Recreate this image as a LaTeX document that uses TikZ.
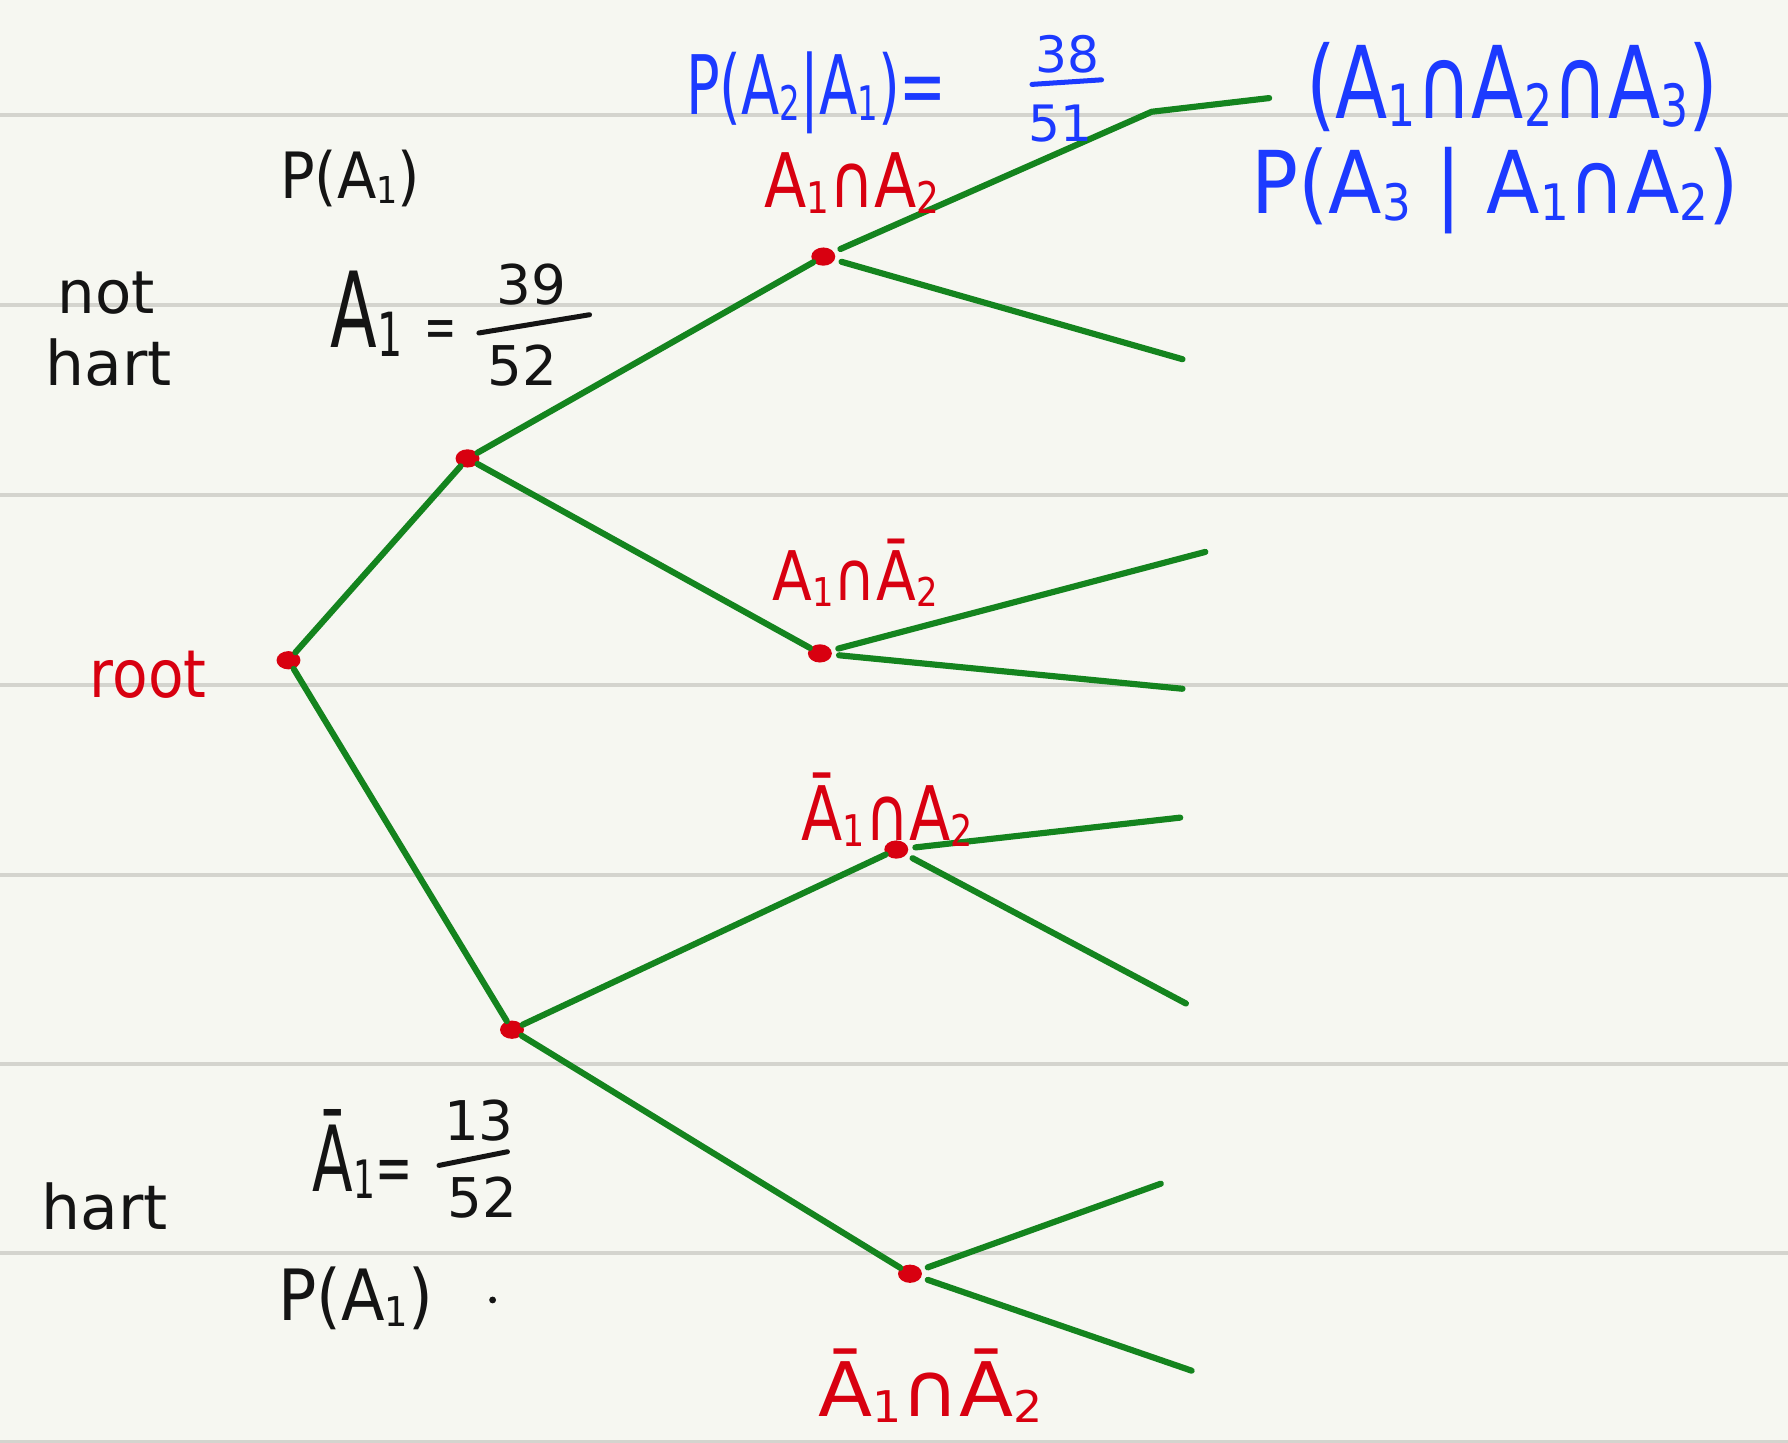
\documentclass[tikz,border=0pt]{standalone}
\usepackage{fontspec}
\setmainfont{DejaVu Sans}
\usepackage{graphicx}
\usetikzlibrary{shapes.geometric}
\definecolor{paper}{RGB}{246,247,241}
\definecolor{ruled}{RGB}{212,212,206}
\definecolor{tgreen}{RGB}{20,132,30}
\definecolor{tred}{RGB}{216,0,16}
\definecolor{tblue}{RGB}{28,58,255}
\definecolor{tink}{RGB}{20,20,20}
\newcommand\fs[1]{\fontsize{#1}{#1}\selectfont}
\newcommand\sx[2]{\scalebox{#1}[1]{#2}}
\newcommand\s[1]{\raisebox{-0.08em}{\scalebox{0.58}{#1}}}
\begin{document}
\begin{tikzpicture}[x=0.5pt,y=-0.5pt,
 edge/.style={draw=tgreen,line width=2.7pt,line cap=round,line join=round},
 leaf/.style={edge,shorten <=3pt},
 dot/.style={ellipse,fill=tred,inner sep=0pt,minimum width=10.5pt,minimum height=8pt},
 lbl/.style={anchor=base,inner sep=0pt},
 redT/.style={lbl,text=tred},
 blueT/.style={lbl,text=tblue},
 inkT/.style={lbl,text=tink},
 pline/.style={draw=ruled,line width=1.6pt},
 fbar/.style={line width=2.2pt,line cap=round}]
\fill[paper] (0,0) rectangle (1568,1265);
\useasboundingbox (0,0) rectangle (1568,1265);
\foreach \yy in {100.9,267.5,434.1,600.7,767.3,933.1,1098.8,1264}
  \draw[pline] (0,\yy) -- (1568,\yy);

% tree nodes
\node[dot] (root) at (253,579) {};
\node[dot] (n1) at (410,402) {};
\node[dot] (n2) at (449,903) {};
\node[dot] (n11) at (722,225) {};
\node[dot] (n12) at (719,573) {};
\node[dot] (n21) at (786,745) {};
\node[dot] (n22) at (798,1117) {};

% leaf ends
\coordinate (k11) at (1010,98);
\coordinate (l11a) at (1113,86);
\coordinate (l11b) at (1037,315);
\coordinate (l12a) at (1057,484);
\coordinate (l12b) at (1037,604);
\coordinate (l21a) at (1035,717);
\coordinate (l21b) at (1040,880);
\coordinate (l22a) at (1018,1038);
\coordinate (l22b) at (1045,1202);

\draw[edge] (root) -- (n1);
\draw[edge] (n1) -- (n11);
\draw[edge] (n1) -- (n12);
\draw[edge] (root) -- (n2);
\draw[edge] (n2) -- (n21);
\draw[edge] (n2) -- (n22);
\draw[leaf] (n11) -- (k11) -- (l11a);
\draw[leaf] (n11) -- (l11b);
\draw[leaf] (n12) -- (l12a);
\draw[leaf] (n12) -- (l12b);
\draw[leaf] (n21) -- (l21a);
\draw[leaf] (n21) -- (l21b);
\draw[leaf] (n22) -- (l22a);
\draw[leaf] (n22) -- (l22b);

% red labels
\node[redT,font=\fs{29}] (troot) at (130,612) {\sx{0.88}{root}};
\node[redT,font=\fs{33}] (t11) at (747,182) {\sx{0.82}{A\s1∩A\s2}};
\node[redT,font=\fs{30}] (t12) at (750,527) {\sx{0.85}{A\s1∩Ā\s2}};
\node[redT,font=\fs{33}] (t21) at (778,737) {\sx{0.8}{Ā\s1∩A\s2}};
\node[redT,font=\fs{33}] (t22) at (816,1242) {\sx{1.05}{Ā\s1∩Ā\s2}};

% blue labels
\node[blueT,font=\fs{36}] (tp21) at (716,100) {\sx{0.68}{P(A\s2|A\s1)=}};
\node[blueT,font=\fs{22}] (n38) at (936,64) {38};
\node[blueT,font=\fs{22}] (n51) at (930,124) {51};
\draw[fbar,tblue] (905,74) -- (966,70);
\node[blueT,font=\fs{44}] (t123) at (1326,104) {\sx{0.76}{(A\s1∩A\s2∩A\s3)}};
\node[blueT,font=\fs{38}] (tp3) at (1311,187) {\sx{0.9}{P(A\s3 | A\s1∩A\s2)}};

% black labels
\node[inkT,font=\fs{28}] (tpa) at (307,174) {\sx{0.9}{P(A\s1)}};
\node[inkT,font=\fs{26}] (tnot) at (93,275) {not};
\node[inkT,font=\fs{27}] (thart1) at (95,338) {hart};
\node[inkT,font=\fs{46}] (ta1) at (345,305) {\sx{0.65}{A\s1 {\fs{26}=}}};
\node[inkT,font=\fs{24}] (n39) at (466,267) {39};
\node[inkT,font=\fs{24}] (n52a) at (458,338) {52};
\draw[fbar,tink] (420,292) -- (517,276);
\node[inkT,font=\fs{27}] (thart2) at (92,1078) {hart};
\node[inkT,font=\fs{40}] (tna1) at (318,1045) {\sx{0.65}{Ā\s1{\fs{30}=}}};
\node[inkT,font=\fs{24}] (n13) at (420,1000) {13};
\node[inkT,font=\fs{24}] (n52b) at (423,1068) {52};
\draw[fbar,tink] (385,1022) -- (445,1010);
\node[inkT,font=\fs{31}] (tpa2) at (312,1158) {\sx{0.9}{P(A\s1)}};
\fill[tink] (432,1140) circle (1.5pt);
\end{tikzpicture}
\end{document}
